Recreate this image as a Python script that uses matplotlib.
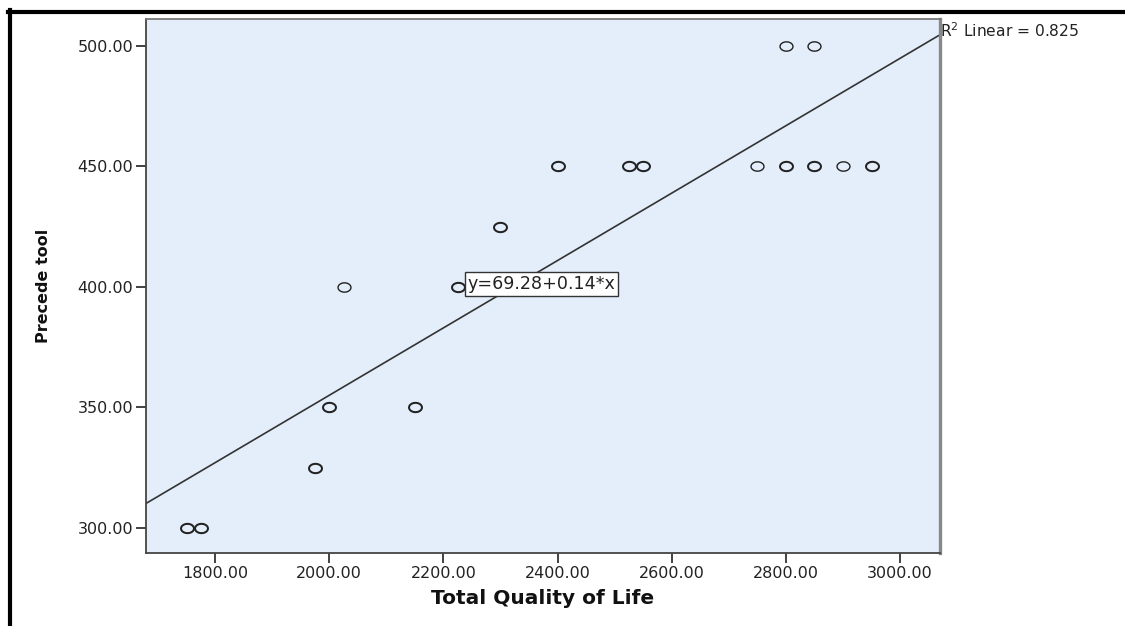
import numpy as np
import matplotlib
matplotlib.use("Agg")
import matplotlib.pyplot as plt
from matplotlib.lines import Line2D
from matplotlib.path import Path

# Data
quality_of_life = [1750, 1775, 1975, 2000, 2150, 2025, 2225, 2300,
                   2400, 2525, 2550, 2750, 2800, 2850, 2900, 2950, 2800, 2850]
precede_tool = [300, 300, 325, 350, 350, 400, 400, 425,
                450, 450, 450, 450, 450, 450, 450, 450, 500, 500]
# overlapping cases per plotted circle (bolder circles in the original)
overlap_cases = [2, 2, 2, 2, 2, 1, 2, 2,
                 2, 2, 2, 1, 2, 2, 1, 2, 1, 1]
x_ticks = [1800, 2000, 2200, 2400, 2600, 2800, 3000]
y_ticks = [300, 350, 400, 450, 500]
equation_label = "y=69.28+0.14*x"
r2_label = "R$^2$ Linear = 0.825"

plt.rcParams['font.family'] = ['DejaVu Sans']
plt.rcParams['mathtext.fontset'] = 'dejavusans'

fig = plt.figure(figsize=(11.25, 6.26), dpi=100)
ax = fig.add_axes([146/1125, 1-553/626, (940-146)/1125, (553-19)/626])
ax.set_facecolor('#E3EEFA')

xs = np.array(quality_of_life, dtype=float)
ys = np.array(precede_tool, dtype=float)
cnt = np.array(overlap_cases)
ax.set_xlim(1679, 3070)
ax.set_ylim(289.6, 511.2)

slope, intercept = np.polyfit(xs, ys, 1)
lx = np.array([1679, 3070])
ax.plot(lx, intercept + slope*lx, color='#333333', lw=1.2, zorder=2)

# slightly flattened circle marker
t = np.linspace(0, 2*np.pi, 60)
ellipse = Path(np.column_stack([np.cos(t), 0.72*np.sin(t)]), closed=True)

for c, lw in [(1, 1.0), (2, 1.45)]:
    m = cnt == c
    ax.plot(xs[m], ys[m], linestyle='none', marker=ellipse, markersize=9.3,
            markerfacecolor='none', markeredgecolor='#222222', markeredgewidth=lw, zorder=3)

ax.set_xticks(x_ticks)
ax.set_xticklabels([f"{v:.2f}" for v in x_ticks])
ax.set_yticks(y_ticks)
ax.set_yticklabels([f"{v:.2f}" for v in y_ticks])
ax.tick_params(axis='both', direction='out', length=7, width=1.3, colors='#333333',
               labelsize=11.5, pad=2)
ax.tick_params(axis='both', labelcolor='#222222')

for side in ['left', 'bottom']:
    ax.spines[side].set_color('#444444')
    ax.spines[side].set_linewidth(1.3)
ax.spines['top'].set_color('#777777')
ax.spines['top'].set_linewidth(1.3)
ax.spines['right'].set_color('#888888')
ax.spines['right'].set_linewidth(2.4)

ax.set_xlabel("Total Quality of Life", fontsize=14.5, fontweight='bold', labelpad=6,
              color='#111111')
ax.set_ylabel("Precede tool", fontsize=11.5, fontweight='bold', labelpad=19,
              color='#111111')

ax.text(2242, 401.2, equation_label, fontsize=12.6, ha='left', va='center', color='#222222',
        bbox=dict(boxstyle='square,pad=0.15', facecolor='white', edgecolor='#333333', lw=1),
        zorder=5)

fig.text(940/1125, 1-31/626, r2_label, fontsize=11.2, ha='left', va='center', color='#222222')

# outer black frame (top and left)
fig.add_artist(Line2D([8/1125, 1.0], [1-11.5/626, 1-11.5/626], color='black', lw=3,
                      transform=fig.transFigure))
fig.add_artist(Line2D([9.5/1125, 9.5/1125], [0.0, 1-10/626], color='black', lw=3,
                      transform=fig.transFigure))

fig.savefig("out.png", dpi=100)
